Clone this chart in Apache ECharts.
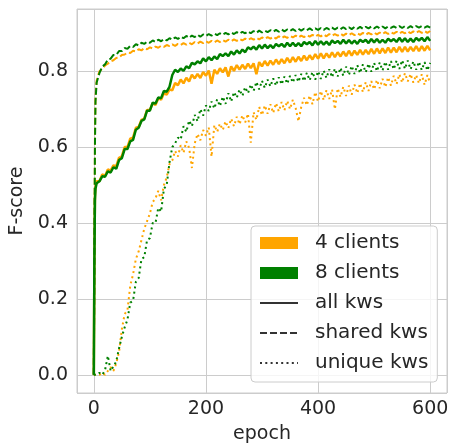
<!DOCTYPE html>
<html>
<head>
<meta charset="utf-8">
<script src="https://cdn.jsdelivr.net/npm/echarts@6/dist/echarts.min.js"></script>
<style>
  html, body { margin: 0; padding: 0; background: #fff; }
  #container { width: 449px; height: 446px; }
</style>
</head>
<body>
<div id="container"></div>
<script>
// epochs: 0,1,2,3 then every 5 up to 600
var epochs = [0, 1, 2, 3,
    5, 10, 15, 20, 25, 30, 35, 40, 45, 50,
    55, 60, 65, 70, 75, 80, 85, 90, 95, 100,
    105, 110, 115, 120, 125, 130, 135, 140, 145, 150,
    155, 160, 165, 170, 175, 180, 185, 190, 195, 200,
    205, 210, 215, 220, 225, 230, 235, 240, 245, 250,
    255, 260, 265, 270, 275, 280, 285, 290, 295, 300,
    305, 310, 315, 320, 325, 330, 335, 340, 345, 350,
    355, 360, 365, 370, 375, 380, 385, 390, 395, 400,
    405, 410, 415, 420, 425, 430, 435, 440, 445, 450,
    455, 460, 465, 470, 475, 480, 485, 490, 495, 500,
    505, 510, 515, 520, 525, 530, 535, 540, 545, 550,
    555, 560, 565, 570, 575, 580, 585, 590, 595, 600];

// 4 clients
var all4 = [0, 0.3, 0.47, 0.495,
    0.51, 0.51, 0.528, 0.524, 0.541, 0.538, 0.552, 0.55, 0.572, 0.576,
    0.6, 0.6, 0.622, 0.625, 0.651, 0.653, 0.672, 0.675, 0.698, 0.698,
    0.716, 0.711, 0.729, 0.725, 0.742, 0.738, 0.752, 0.75, 0.769, 0.763,
    0.778, 0.768, 0.783, 0.773, 0.791, 0.781, 0.793, 0.782, 0.798, 0.788,
    0.802, 0.767, 0.804, 0.793, 0.808, 0.797, 0.81, 0.786, 0.813, 0.801,
    0.816, 0.804, 0.817, 0.806, 0.82, 0.808, 0.821, 0.792, 0.824, 0.813,
    0.827, 0.815, 0.828, 0.817, 0.831, 0.819, 0.832, 0.821, 0.835, 0.823,
    0.837, 0.825, 0.838, 0.827, 0.841, 0.829, 0.842, 0.831, 0.845, 0.833,
    0.847, 0.834, 0.847, 0.836, 0.85, 0.837, 0.85, 0.839, 0.852, 0.84,
    0.854, 0.841, 0.854, 0.843, 0.856, 0.844, 0.856, 0.845, 0.859, 0.846,
    0.86, 0.847, 0.86, 0.848, 0.862, 0.849, 0.862, 0.85, 0.864, 0.851,
    0.864, 0.852, 0.864, 0.853, 0.866, 0.853, 0.866, 0.854, 0.867, 0.855];
var shared4 = [0, 0.3, 0.62, 0.73,
    0.775, 0.8, 0.806, 0.815, 0.82, 0.826, 0.829, 0.835, 0.836, 0.843,
    0.844, 0.849, 0.848, 0.854, 0.852, 0.858, 0.855, 0.861, 0.858, 0.863,
    0.86, 0.865, 0.862, 0.867, 0.864, 0.869, 0.866, 0.871, 0.867, 0.872,
    0.869, 0.874, 0.87, 0.875, 0.871, 0.877, 0.873, 0.878, 0.874, 0.879,
    0.875, 0.88, 0.876, 0.881, 0.877, 0.882, 0.878, 0.883, 0.879, 0.884,
    0.88, 0.885, 0.881, 0.886, 0.882, 0.887, 0.883, 0.888, 0.884, 0.889,
    0.885, 0.89, 0.886, 0.891, 0.886, 0.892, 0.887, 0.892, 0.888, 0.893,
    0.889, 0.894, 0.889, 0.894, 0.89, 0.895, 0.891, 0.896, 0.891, 0.896,
    0.892, 0.897, 0.892, 0.898, 0.893, 0.898, 0.894, 0.899, 0.894, 0.899,
    0.895, 0.9, 0.895, 0.9, 0.896, 0.901, 0.896, 0.901, 0.897, 0.902,
    0.897, 0.902, 0.898, 0.903, 0.898, 0.903, 0.899, 0.904, 0.899, 0.904,
    0.9, 0.905, 0.9, 0.905, 0.901, 0.906, 0.901, 0.906, 0.901, 0.906];
var unique4 = [0, 0, 0, 0,
    0, 0, 0.005, 0, 0.01, 0.02, 0.01, 0.03, 0.06, 0.12,
    0.16, 0.17, 0.235, 0.265, 0.305, 0.325, 0.355, 0.385, 0.405, 0.425,
    0.455, 0.465, 0.485, 0.46, 0.5, 0.52, 0.555, 0.565, 0.59, 0.575,
    0.605, 0.585, 0.615, 0.598, 0.545, 0.61, 0.635, 0.618, 0.645, 0.63,
    0.652, 0.575, 0.658, 0.64, 0.662, 0.645, 0.668, 0.65, 0.675, 0.655,
    0.68, 0.66, 0.684, 0.665, 0.688, 0.612, 0.692, 0.672, 0.706, 0.684,
    0.71, 0.688, 0.713, 0.69, 0.716, 0.694, 0.719, 0.697, 0.722, 0.7,
    0.725, 0.703, 0.668, 0.706, 0.73, 0.71, 0.736, 0.713, 0.745, 0.72,
    0.748, 0.724, 0.75, 0.727, 0.752, 0.7, 0.755, 0.732, 0.759, 0.735,
    0.762, 0.738, 0.765, 0.742, 0.768, 0.745, 0.771, 0.748, 0.774, 0.752,
    0.777, 0.755, 0.78, 0.758, 0.784, 0.762, 0.788, 0.766, 0.792, 0.77,
    0.795, 0.773, 0.793, 0.77, 0.79, 0.768, 0.792, 0.764, 0.79, 0.768];

// 8 clients
var all8 = [0, 0.3, 0.46, 0.49,
    0.505, 0.51, 0.523, 0.522, 0.536, 0.533, 0.547, 0.543, 0.566, 0.571,
    0.595, 0.595, 0.615, 0.619, 0.646, 0.651, 0.669, 0.673, 0.696, 0.696,
    0.717, 0.715, 0.731, 0.729, 0.748, 0.746, 0.759, 0.79, 0.804, 0.798,
    0.807, 0.801, 0.813, 0.808, 0.822, 0.818, 0.826, 0.821, 0.834, 0.826,
    0.837, 0.829, 0.839, 0.832, 0.845, 0.84, 0.847, 0.84, 0.852, 0.844,
    0.855, 0.847, 0.857, 0.85, 0.863, 0.858, 0.865, 0.857, 0.869, 0.86,
    0.87, 0.861, 0.869, 0.861, 0.872, 0.866, 0.872, 0.864, 0.875, 0.866,
    0.875, 0.866, 0.874, 0.866, 0.877, 0.871, 0.877, 0.868, 0.88, 0.87,
    0.879, 0.87, 0.878, 0.869, 0.881, 0.874, 0.88, 0.872, 0.883, 0.873,
    0.882, 0.873, 0.881, 0.872, 0.883, 0.877, 0.883, 0.874, 0.885, 0.876,
    0.885, 0.875, 0.883, 0.875, 0.886, 0.879, 0.885, 0.877, 0.888, 0.878,
    0.887, 0.877, 0.886, 0.877, 0.888, 0.881, 0.888, 0.879, 0.89, 0.88];
var shared8 = [0, 0.3, 0.6, 0.72,
    0.77, 0.795, 0.812, 0.818, 0.831, 0.833, 0.843, 0.843, 0.853, 0.853,
    0.861, 0.859, 0.867, 0.864, 0.871, 0.868, 0.875, 0.872, 0.878, 0.875,
    0.881, 0.877, 0.883, 0.879, 0.885, 0.881, 0.887, 0.883, 0.889, 0.885,
    0.891, 0.887, 0.893, 0.888, 0.894, 0.89, 0.896, 0.891, 0.897, 0.893,
    0.898, 0.894, 0.899, 0.895, 0.9, 0.896, 0.901, 0.897, 0.902, 0.898,
    0.903, 0.899, 0.904, 0.9, 0.905, 0.9, 0.906, 0.901, 0.907, 0.902,
    0.907, 0.903, 0.908, 0.904, 0.909, 0.904, 0.91, 0.905, 0.91, 0.906,
    0.911, 0.906, 0.912, 0.907, 0.912, 0.908, 0.913, 0.908, 0.913, 0.909,
    0.914, 0.909, 0.914, 0.91, 0.915, 0.91, 0.915, 0.911, 0.916, 0.911,
    0.916, 0.911, 0.917, 0.912, 0.917, 0.912, 0.917, 0.913, 0.918, 0.913,
    0.918, 0.913, 0.918, 0.913, 0.918, 0.914, 0.918, 0.914, 0.919, 0.914,
    0.919, 0.914, 0.919, 0.914, 0.919, 0.915, 0.919, 0.915, 0.919, 0.915];
var unique8 = [0, 0, 0, 0,
    0, 0.005, 0, 0.012, 0.05, 0.01, 0.022, 0.035, 0.07, 0.1,
    0.125, 0.145, 0.19, 0.195, 0.245, 0.255, 0.305, 0.31, 0.355, 0.36,
    0.4, 0.4, 0.44, 0.43, 0.49, 0.5, 0.56, 0.6, 0.61, 0.625,
    0.62, 0.655, 0.64, 0.67, 0.655, 0.685, 0.668, 0.7, 0.683, 0.71,
    0.695, 0.72, 0.702, 0.726, 0.708, 0.733, 0.714, 0.742, 0.72, 0.745,
    0.73, 0.752, 0.735, 0.758, 0.742, 0.765, 0.748, 0.772, 0.752, 0.775,
    0.756, 0.778, 0.76, 0.781, 0.762, 0.784, 0.765, 0.786, 0.767, 0.788,
    0.77, 0.79, 0.772, 0.793, 0.774, 0.796, 0.776, 0.798, 0.778, 0.8,
    0.78, 0.802, 0.782, 0.805, 0.784, 0.807, 0.786, 0.809, 0.788, 0.812,
    0.79, 0.814, 0.793, 0.816, 0.795, 0.818, 0.797, 0.82, 0.799, 0.822,
    0.8, 0.823, 0.802, 0.825, 0.804, 0.827, 0.805, 0.828, 0.806, 0.829,
    0.806, 0.828, 0.805, 0.826, 0.804, 0.825, 0.803, 0.824, 0.802, 0.822];

var legendNames = ['4 clients', '8 clients', 'all kws', 'shared kws', 'unique kws'];

var ORANGE = '#ffa500';
var GREEN = '#008000';
var TEXT = '#262626';
var GRIDC = '#cccccc';
var SOLID = 'solid';
var DASHED = [7, 3];
var DOTTED = [2, 3.3];

function pairs(ys) {
    var out = [];
    for (var i = 0; i < epochs.length; i++) {
        out.push([epochs[i], ys[i]]);
    }
    return out;
}

function curve(name, ys, color, dash, width) {
    return {
        name: name,
        type: 'line',
        data: pairs(ys),
        symbol: 'none',
        showSymbol: false,
        lineStyle: { color: color, width: width, type: dash },
        itemStyle: { color: color },
        z: 2
    };
}

function dummy(name, color, dash) {
    return {
        name: name,
        type: 'line',
        data: [],
        symbol: 'none',
        lineStyle: { color: color, width: 2, type: dash },
        itemStyle: { color: color }
    };
}

// no marker in the middle of the line-style legend keys
var noMark = { color: 'rgba(0,0,0,0)', borderWidth: 0, opacity: 0 };

var dom = document.getElementById('container');
var myChart = echarts.init(dom, null, { renderer: 'canvas' });

var option = {
    animation: false,
    backgroundColor: '#fff',
    textStyle: { fontFamily: 'DejaVu Sans' },
    grid: {
        left: 77, right: 2, top: 9, bottom: 53,
        outerBoundsMode: 'none',
        show: true,
        borderColor: GRIDC,
        borderWidth: 1,
        backgroundColor: '#fff'
    },
    xAxis: {
        type: 'value',
        min: -30,
        max: 630,
        splitNumber: 3,
        name: 'epoch',
        nameLocation: 'middle',
        nameGap: 32,
        nameTextStyle: { color: TEXT, fontSize: 19, fontFamily: 'DejaVu Sans' },
        axisLine: { show: false },
        axisTick: { show: false },
        axisLabel: {
            color: TEXT, fontSize: 19, margin: 7,
            showMinLabel: false, showMaxLabel: false
        },
        splitLine: { show: true, lineStyle: { color: GRIDC, width: 1 } }
    },
    yAxis: {
        type: 'value',
        min: -0.048,
        max: 0.964,
        splitNumber: 5,
        name: 'F-score',
        nameLocation: 'middle',
        nameGap: 47,
        nameTextStyle: { color: TEXT, fontSize: 19, fontFamily: 'DejaVu Sans' },
        axisLine: { show: false },
        axisTick: { show: false },
        axisLabel: {
            color: TEXT, fontSize: 19, margin: 9,
            showMinLabel: false, showMaxLabel: false,
            formatter: function (v) { return v.toFixed(1); }
        },
        splitLine: { show: true, lineStyle: { color: GRIDC, width: 1 } }
    },
    legend: {
        orient: 'vertical',
        left: 251,
        top: 226,
        padding: [7, 9, 9, 8],
        itemWidth: 38,
        itemHeight: 12,
        itemGap: 10,
        backgroundColor: 'rgba(255,255,255,0.8)',
        borderColor: GRIDC,
        borderWidth: 1,
        borderRadius: 4,
        selectedMode: false,
        textStyle: { color: TEXT, fontSize: 20, fontFamily: 'DejaVu Sans', padding: [0, 0, 0, 12] },
        data: [
            { name: legendNames[0], icon: 'rect' },
            { name: legendNames[1], icon: 'rect' },
            { name: legendNames[2], itemStyle: noMark },
            { name: legendNames[3], itemStyle: noMark },
            { name: legendNames[4], itemStyle: noMark }
        ]
    },
    series: [
        curve('4 clients, all kws', all4, ORANGE, SOLID, 2.5),
        curve('4 clients, shared kws', shared4, ORANGE, DASHED, 2),
        curve('4 clients, unique kws', unique4, ORANGE, DOTTED, 2),
        curve('8 clients, all kws', all8, GREEN, SOLID, 2.5),
        curve('8 clients, shared kws', shared8, GREEN, DASHED, 2),
        curve('8 clients, unique kws', unique8, GREEN, DOTTED, 2),
        dummy(legendNames[0], ORANGE, SOLID),
        dummy(legendNames[1], GREEN, SOLID),
        dummy(legendNames[2], '#333333', SOLID),
        dummy(legendNames[3], '#333333', DASHED),
        dummy(legendNames[4], '#333333', DOTTED)
    ]
};

if (option && typeof option === 'object') {
    myChart.setOption(option, true);
}
</script>
</body>
</html>
